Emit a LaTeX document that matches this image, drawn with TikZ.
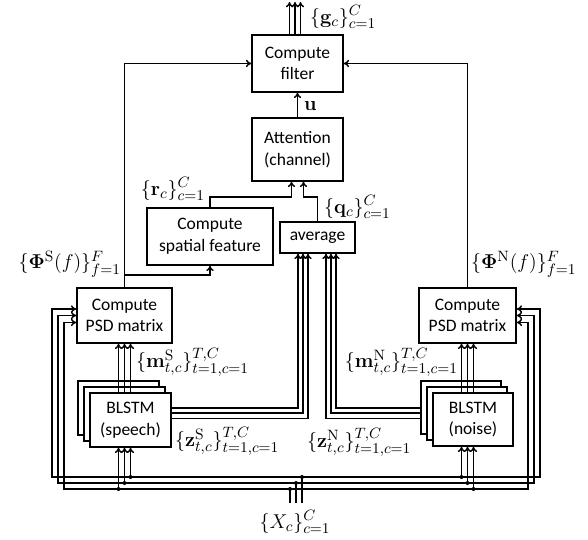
\documentclass[tikz,border=0pt]{standalone}
\usepackage[no-math]{fontspec}
\setsansfont{Carlito}
\usetikzlibrary{arrows.meta,calc}
\begin{document}
\begin{tikzpicture}[x=0.6pt, y=-0.6pt,
  every node/.style={font=\sffamily\fontsize{10.5}{13}\selectfont},
  box/.style={draw, line width=0.9pt, fill=white, align=center, inner sep=0pt},
  lbl/.style={font=\fontsize{13}{15}\selectfont, inner sep=0.5pt},
  wire/.style={line width=0.85pt},
  arr/.style={wire, -{To[length=3.2pt,width=4.4pt]}},
  biarr/.style={wire, {To[length=3.2pt,width=4.4pt]}-{To[length=3.2pt,width=4.4pt]}},
]
\def\scl{0.6pt}
\useasboundingbox (0,0) rectangle (588,540);

\node[box, minimum width=91*\scl, minimum height=57*\scl] (filter) at (297.5,63.5) {Compute\\filter};
\node[box, minimum width=91*\scl, minimum height=63*\scl] (att) at (297.5,149.5) {Attention\\(channel)};
\node[box, minimum width=126*\scl, minimum height=57*\scl] (spat) at (210,236.5) {Compute\\spatial feature};
\node[box, minimum width=75*\scl, minimum height=31*\scl] (avg) at (317.5,237.5) {average};
\node[box, minimum width=95*\scl, minimum height=55*\scl] (psdS) at (124.5,315.5) {Compute\\PSD matrix};
\node[box, minimum width=97*\scl, minimum height=55*\scl] (psdN) at (467.5,315.5) {Compute\\PSD matrix};

\foreach \d in {12,6} {
  \node[box, minimum width=81*\scl, minimum height=54*\scl] (lstmS\d) at (130.5-\d,420-\d) {};
  \node[box, minimum width=80*\scl, minimum height=53*\scl] (lstmN\d) at (473-\d,419.5-\d) {};
}
\node[box, minimum width=81*\scl, minimum height=54*\scl] (lstmS) at (130.5,420) {BLSTM\\(speech)};
\node[box, minimum width=80*\scl, minimum height=53*\scl] (lstmN) at (473,419.5) {BLSTM\\(noise)};

\coordinate (gout) at (0,2);
\coordinate (rq) at (0,197);
\coordinate (br) at (0,275);

\foreach \dx in {-8,-2.5,3}
  \draw[arr] ($(filter.north)+(\dx,0)$) -- ($(filter.north |- gout)+(\dx,0)$);
\draw[arr] (att) -- (filter);
\draw[arr] (spat.north) -- (spat.north |- rq) -| ($(att.south)+(-6,0)$);
\draw[arr] (avg.north) -- (avg.north |- rq) -| ($(att.south)+(6,0)$);
\draw[arr] (psdS.north) |- (filter.west);
\draw[arr] (psdN.north) |- (filter.east);
\draw[arr] (psdS.north |- br) -| (spat.south);

\foreach \i/\yb/\xl/\xr/\oy/\yz in {1/477/52/540/-6.5/408, 2/483/58/534/0/413, 3/489/64/528/7/418.5} {
  \coordinate (bl\i) at (\xl,\yb);
  \coordinate (br\i) at (\xr,\yb);
  \coordinate (xin\i) at ({296+(2-\i)*6},503);
  \coordinate (sin\i) at ({124.5+(2-\i)*6},447);
  \coordinate (nin\i) at ({467.5+(\i-2)*6},446);
  \coordinate (zs\i) at (0,\yz);
  \draw[biarr] ($(psdS.west)+(0,\oy)$) -| (bl\i) -- (br\i) |- ($(psdN.east)+(0,\oy)$);
  \draw[wire] (xin\i) -- (xin\i |- bl\i);
  \draw[arr] (sin\i |- bl\i) -- (sin\i |- lstmS.south);
  \draw[arr] (nin\i |- bl\i) -- (nin\i |- lstmN.south);
  \draw[arr] (sin\i |- lstmS.north) -- (sin\i |- psdS.south);
  \draw[arr] (nin\i |- lstmN.north) -- (nin\i |- psdN.south);
  \fill (xin\i |- bl\i) circle[radius=1.2pt] (sin\i |- bl\i) circle[radius=1.2pt] (nin\i |- bl\i) circle[radius=1.2pt];
  \draw[arr] (lstmS.east |- zs\i) -| ($(avg.south)+({-24.5+5*\i},0)$);
  \draw[arr] (lstmN12.west |- zs\i) -| ($(avg.south)+({23.5-5*\i},0)$);
}

\node[lbl, anchor=west] (glbl) at (309,17) {$\{\mathbf{g}_c\}_{c=1}^{C}$};
\node[lbl, anchor=west] (ulbl) at (303,106) {$\mathbf{u}$};
\node[lbl, anchor=east] (rlbl) at (206,189) {$\{\mathbf{r}_c\}_{c=1}^{C}$};
\node[lbl, anchor=west] (qlbl) at (323,207) {$\{\mathbf{q}_c\}_{c=1}^{C}$};
\node[lbl, anchor=east] (phislbl) at (122,264) {$\{\mathbf{\Phi}^{\mathrm{S}}(f)\}_{f=1}^{F}$};
\node[lbl, anchor=west] (phinlbl) at (470,264) {$\{\mathbf{\Phi}^{\mathrm{N}}(f)\}_{f=1}^{F}$};
\node[lbl, anchor=west] (mslbl) at (135,362) {$\{\mathbf{m}^{\mathrm{S}}_{t,c}\}_{t=1,c=1}^{T,C}$};
\node[lbl, anchor=east] (mnlbl) at (459,362) {$\{\mathbf{m}^{\mathrm{N}}_{t,c}\}_{t=1,c=1}^{T,C}$};
\node[lbl, anchor=west] (zslbl) at (174,441) {$\{\mathbf{z}^{\mathrm{S}}_{t,c}\}_{t=1,c=1}^{T,C}$};
\node[lbl, anchor=west] (znlbl) at (306,442) {$\{\mathbf{z}^{\mathrm{N}}_{t,c}\}_{t=1,c=1}^{T,C}$};
\node[lbl] (xlbl) at (295,522) {$\{X_c\}_{c=1}^{C}$};
\end{tikzpicture}
\end{document}
